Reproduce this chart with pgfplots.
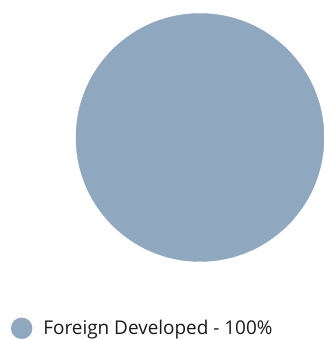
\documentclass[border=0pt]{standalone}
\usepackage{fontspec}
\setmainfont{Open Sans}
\usepackage{pgfplots}
\pgfplotsset{compat=1.18}
\definecolor{pieblue}{HTML}{8FA8BF}
\definecolor{txt}{HTML}{1A1A1A}
\begin{document}
\begin{tikzpicture}[x=1bp,y=1bp]
\begin{axis}[
  width=324bp, height=339bp, scale only axis,
  xmin=0, xmax=324, ymin=0, ymax=339,
  axis line style={draw=none}, xtick=\empty, ytick=\empty,
  clip=false,
  legend style={draw=none, fill=none, inner sep=0pt, outer sep=0pt,
    at={(axis cs:11,0)}, anchor=south west,
    font=\fontsize{19}{21}\selectfont, text=txt,
    /tikz/every odd column/.append style={column sep=9bp}},
  legend cell align=left,
]
\addplot[only marks, mark=*, mark size=124bp, color=pieblue, mark options={draw=none, fill=pieblue},
  legend image code/.code={\fill[pieblue] (10bp,0bp) circle (10.5bp);}]
  coordinates {(200,201.5)};
\addlegendentry{Foreign Developed - 100\%}
\end{axis}
\end{tikzpicture}
\end{document}
